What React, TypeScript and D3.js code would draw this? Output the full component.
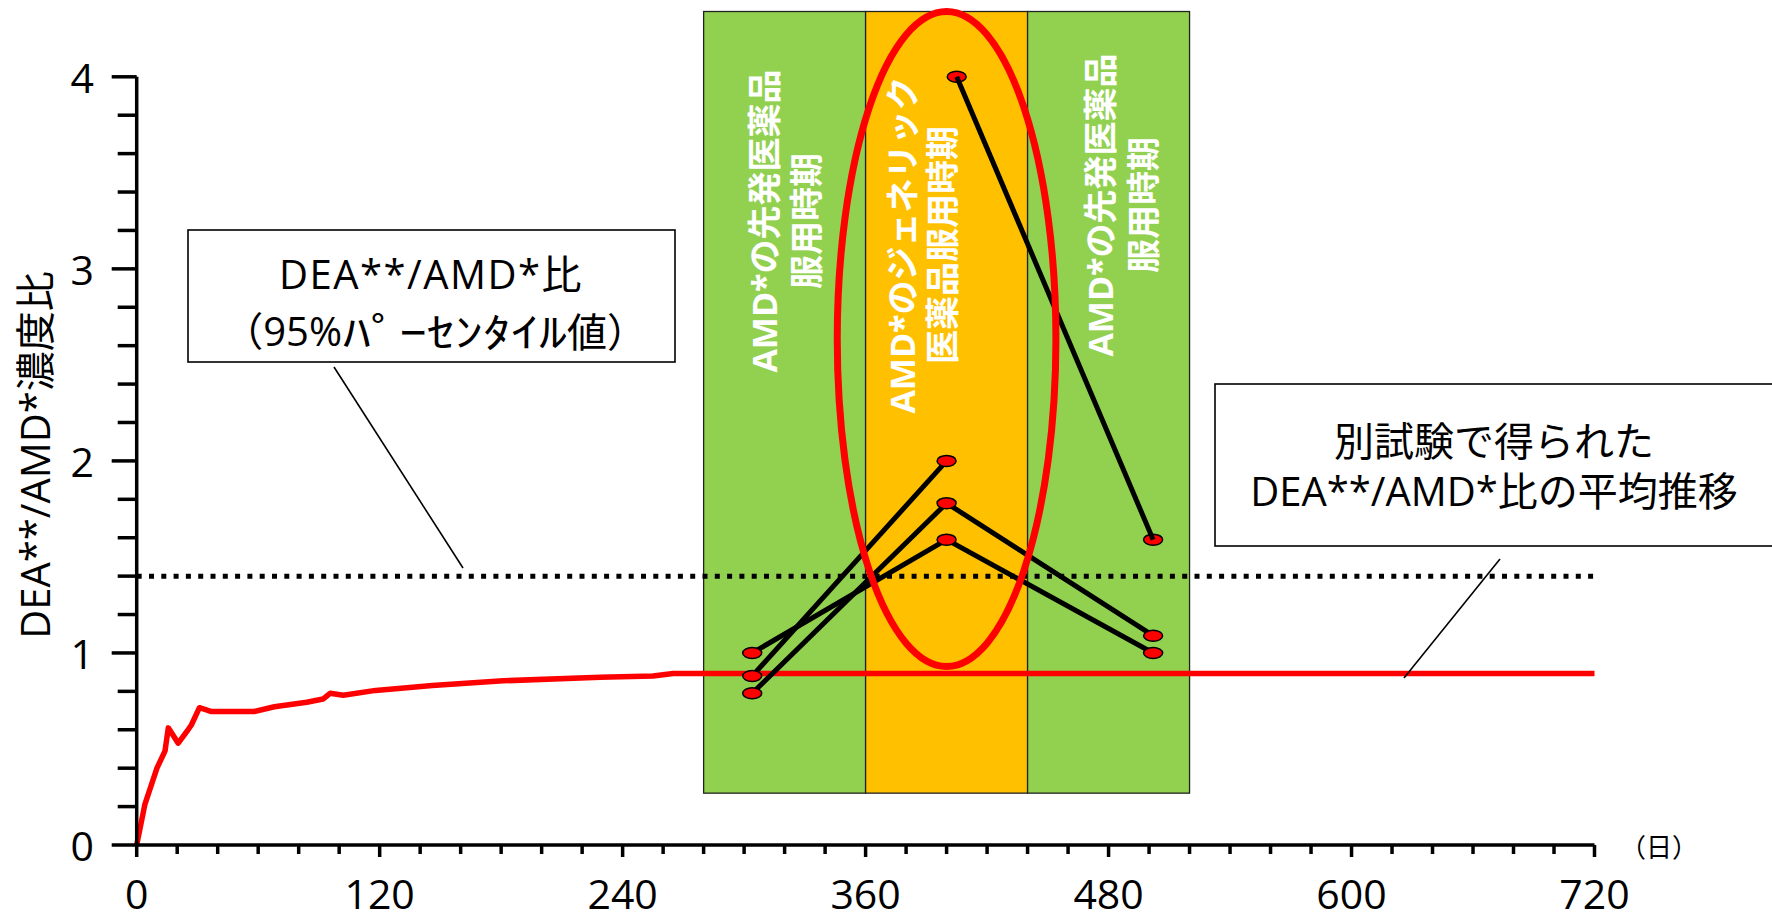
import React from "react";
import * as d3 from "d3";

// ---- data ----
const xTickValues = [0, 120, 240, 360, 480, 600, 720];
const yTickValues = [0, 1, 2, 3, 4];
const xMinorStep = 20;
const yMinorStep = 0.2;

// mean DEA/AMD ratio trajectory from a separate study (day, ratio)
const meanDays = [0, 4, 10, 14, 15.6, 20.5, 24.7, 27, 31, 37, 58, 68, 84, 92, 95.5, 102, 118, 146, 181, 229, 255, 265, 720];
const meanRatio = [0, 0.21, 0.4, 0.49, 0.61, 0.53, 0.59, 0.625, 0.715, 0.695, 0.695, 0.72, 0.743, 0.76, 0.79, 0.78, 0.805, 0.83, 0.855, 0.873, 0.88, 0.893, 0.893];

const percentile95 = 1.4;

// periods (days)
const periodStart = [280, 360, 440];
const periodEnd = [360, 440, 520];
const periodKind = ["brand", "generic", "brand"];
const periodLabel1 = ["AMD*の先発医薬品", "AMD*のジェネリック", "AMD*の先発医薬品"];
const periodLabel2 = ["服用時期", "医薬品服用時期", "服用時期"];
const periodTop = 4.34;
const periodBottom = 0.27;

// individual subjects (day, ratio)
const subject1 = [[304, 0.88], [400, 2.0]];
const subject2 = [[304, 0.79], [400, 1.78], [502, 1.09]];
const subject3 = [[304, 1.0], [400, 1.59], [502, 1.0]];
const subject4 = [[405, 4.0], [502, 1.59]];
const subjects = [subject1, subject2, subject3];

// highlight ellipse extent (days / ratio)
const highlightDays = [346, 454];
const highlightRatio = [0.93, 4.34];

const W = 1772;
const H = 918;

const x = d3.scaleLinear().domain([0, 720]).range([136.7, 1594.5]);
const y = d3.scaleLinear().domain([0, 4]).range([845, 76.8]);

const LATIN = "'Open Sans', 'Noto Sans CJK JP', sans-serif";
const CJK = "'Noto Sans CJK JP', sans-serif";

// label placement inside each band (px offsets / centers)
const labelCol1X = [764, 902, 1100];
const labelCol2X = [806, 942, 1143];
const labelCenterY = [221, 245, 205];

export default function App() {
  const meanLine = d3
    .line<number>()
    .x((_, i) => x(meanDays[i]))
    .y((d) => y(d))(meanRatio) as string;

  const segLine = d3
    .line<number[]>()
    .x((d) => x(d[0]))
    .y((d) => y(d[1]));

  const xMinor = d3.range(0, 720 + 0.001, xMinorStep);
  const yMinor = d3.range(0, 4 + 0.001, yMinorStep);

  const colorOf = (k: string) => (k === "brand" ? "#92D050" : "#FFC000");

  const cx = (x(highlightDays[0]) + x(highlightDays[1])) / 2;
  const cy = (y(highlightRatio[0]) + y(highlightRatio[1])) / 2;
  const rx = (x(highlightDays[1]) - x(highlightDays[0])) / 2;
  const ry = (y(highlightRatio[0]) - y(highlightRatio[1])) / 2;

  const bandLabel = (tx: number, ty: number, text: string, key: string) => (
    <text
      key={key}
      transform={`translate(${tx},${ty}) rotate(-90)`}
      textAnchor="middle"
      dominantBaseline="central"
      fill="#ffffff"
      fontFamily={LATIN}
      fontWeight={700}
      fontSize={34}
    >
      {text}
    </text>
  );

  const marker = (d: number[], key: string) => (
    <ellipse
      key={key}
      cx={x(d[0])}
      cy={y(d[1])}
      rx={9.5}
      ry={5.5}
      fill="#FF0000"
      stroke="#000"
      strokeWidth={1.5}
    />
  );

  return (
    <svg
      width={W}
      height={H}
      viewBox={`0 0 ${W} ${H}`}
      style={{ position: "absolute", left: 0, top: 0, background: "#fff" }}
    >
      {/* period bands */}
      {periodStart.map((s, i) => (
        <rect
          key={"band" + i}
          x={x(s)}
          y={y(periodTop)}
          width={x(periodEnd[i]) - x(s)}
          height={y(periodBottom) - y(periodTop)}
          fill={colorOf(periodKind[i])}
          stroke="#222"
          strokeWidth={1.3}
        />
      ))}

      {/* band labels */}
      {periodStart.map((_, i) => bandLabel(labelCol1X[i], labelCenterY[i], periodLabel1[i], "a" + i))}
      {periodStart.map((_, i) => bandLabel(labelCol2X[i], labelCenterY[i], periodLabel2[i], "b" + i))}

      {/* 95th percentile dotted line */}
      <line
        x1={x(0)}
        x2={x(720)}
        y1={y(percentile95)}
        y2={y(percentile95)}
        stroke="#000"
        strokeWidth={5}
        strokeDasharray="5 7.3"
      />

      {/* mean line */}
      <path d={meanLine} fill="none" stroke="#FF0000" strokeWidth={5.5} strokeLinejoin="round" />

      {/* subjects */}
      {subjects.map((s, i) => (
        <path key={"s" + i} d={segLine(s) as string} fill="none" stroke="#000" strokeWidth={5} />
      ))}
      {subjects.map((s, i) => s.map((d, j) => marker(d, `m${i}-${j}`)))}
      {subject4.map((d, j) => marker(d, `m4-${j}`))}
      <path d={segLine(subject4) as string} fill="none" stroke="#000" strokeWidth={5} />

      {/* highlight ellipse */}
      <ellipse cx={cx} cy={cy} rx={rx} ry={ry} fill="none" stroke="#FF0000" strokeWidth={7} />

      {/* axes */}
      <line x1={x(0)} x2={x(0)} y1={y(0) + 1.75} y2={y(4)} stroke="#000" strokeWidth={3.5} />
      <line x1={x(0)} x2={x(720)} y1={y(0)} y2={y(0)} stroke="#000" strokeWidth={3.5} />
      {yMinor.map((v, i) => {
        const major = Math.abs(v - Math.round(v)) < 1e-6;
        return (
          <line
            key={"yt" + i}
            x1={x(0) - (major ? 25 : 19)}
            x2={x(0)}
            y1={y(v)}
            y2={y(v)}
            stroke="#000"
            strokeWidth={3.5}
          />
        );
      })}
      {xMinor.map((v, i) => {
        const major = v % 120 === 0;
        return (
          <line
            key={"xt" + i}
            x1={x(v)}
            x2={x(v)}
            y1={y(0)}
            y2={y(0) + (major ? 12 : 9)}
            stroke="#000"
            strokeWidth={3.5}
          />
        );
      })}
      {xTickValues.map((v) => (
        <text
          key={"xl" + v}
          x={x(v)}
          y={909}
          textAnchor="middle"
          fontFamily={LATIN}
          fontSize={41}
          fill="#000"
        >
          {v}
        </text>
      ))}
      {yTickValues.map((v) => (
        <text
          key={"yl" + v}
          x={94}
          y={y(v)}
          textAnchor="end"
          dominantBaseline="central"
          fontFamily={LATIN}
          fontSize={41}
          fill="#000"
        >
          {v}
        </text>
      ))}
      <text
        x={1620}
        y={y(0)}
        dominantBaseline="central"
        fontFamily={CJK}
        fontSize={26}
        fill="#000"
      >
        （日）
      </text>
      <text
        transform={`translate(34,455) rotate(-90)`}
        textAnchor="middle"
        dominantBaseline="central"
        fontFamily={LATIN}
        fontSize={40}
        fill="#000"
      >
        DEA**/AMD*濃度比
      </text>

      {/* annotation box 1 */}
      <line x1={334} y1={367} x2={463} y2={568} stroke="#000" strokeWidth={1.6} />
      <rect x={188} y={230} width={487} height={132} fill="#fff" stroke="#000" strokeWidth={1.6} />
      <text x={431} y={273} textAnchor="middle" dominantBaseline="central" fontFamily={LATIN} fontSize={40} letterSpacing={1.5} fill="#000">
        DEA**/AMD*比
      </text>
      <text x={342} y={330} textAnchor="end" dominantBaseline="central" fontFamily={LATIN} fontSize={40} fill="#000">
        （95%
      </text>
      <text transform="translate(343,330) scale(1.4,1)" dominantBaseline="central" fontFamily={CJK} fontSize={40} fill="#000">
        ﾊﾟｰｾﾝﾀｲﾙ
      </text>
      <text x={567} y={330} dominantBaseline="central" fontFamily={CJK} fontSize={40} fill="#000">
        値）
      </text>

      {/* annotation box 2 */}
      <line x1={1500} y1={559} x2={1404} y2={678} stroke="#000" strokeWidth={1.6} />
      <rect x={1215} y={384} width={570} height={162} fill="#fff" stroke="#000" strokeWidth={1.6} />
      <text x={1494} y={440} textAnchor="middle" dominantBaseline="central" fontFamily={LATIN} fontSize={40} fill="#000">
        別試験で得られた
      </text>
      <text x={1494} y={490} textAnchor="middle" dominantBaseline="central" fontFamily={LATIN} fontSize={40} fill="#000">
        DEA**/AMD*比の平均推移
      </text>
    </svg>
  );
}
